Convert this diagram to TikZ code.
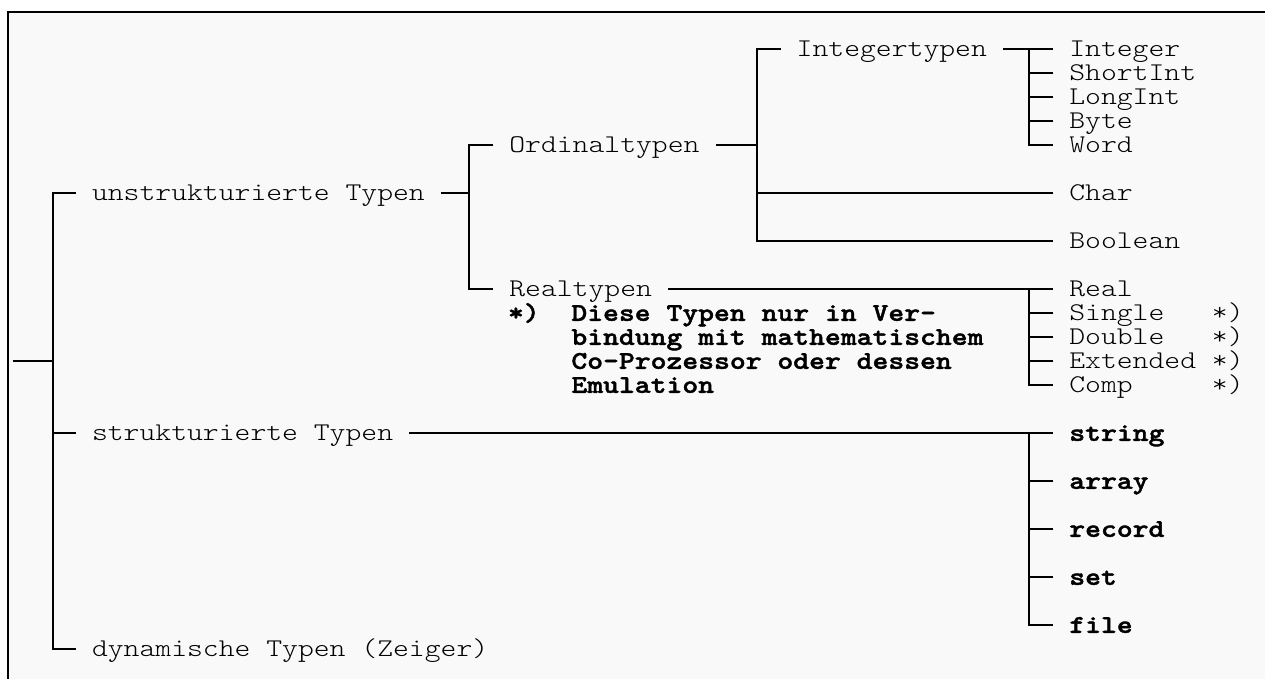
\documentclass[tikz,border=0pt]{standalone}
\usepackage{fontspec}
\newfontfamily\monof{lmmonolt10-regular.otf}[FakeStretch=1.184]
\newfontfamily\monobf{lmmonolt10-bold.otf}[FakeStretch=1.184, FakeBold=1.6]
\begin{document}
\begin{tikzpicture}[x=1pt,y=-1pt,
  tree/.style={line width=1.8pt},
  lbl/.style={font={\monof\fontsize{25.5}{24}\selectfont}, inner xsep=16pt, inner ysep=0pt,
    text height=21.6pt, text depth=6pt, anchor=west, outer sep=0pt},
  blbl/.style={lbl, font={\monobf\fontsize{25.5}{24}\selectfont}}]
\useasboundingbox (0,0) rectangle (1265,679);
\fill[gray!5] (8,12) rectangle (1270,684);
\draw[line width=2.2pt] (8,684) -- (8,12) -- (1270,12);

% level 1
\node[lbl] (u) at (76,193) {unstrukturierte Typen};
\node[lbl] (s) at (76,433) {strukturierte Typen};
\node[lbl] (d) at (76,649) {dynamische Typen (Zeiger)};
% level 2
\node[lbl] (o) at (493.3,145) {Ordinaltypen};
\node[lbl] (r) at (493.3,289) {Realtypen};
% level 3
\node[lbl] (it) at (780.7,49) {Integertypen};
\node[lbl] (ch) at (1053.3,193) {Char};
\node[lbl] (bo) at (1053.3,241) {Boolean};
% integer types
\node[lbl] (i1) at (1053.3,49) {Integer};
\node[lbl] (i2) at (1053.3,73) {ShortInt};
\node[lbl] (i3) at (1053.3,97) {LongInt};
\node[lbl] (i4) at (1053.3,121) {Byte};
\node[lbl] (i5) at (1053.3,145) {Word};
% real types
\node[lbl] (re1) at (1053.3,289) {Real};
\node[lbl] (re2) at (1053.3,313) {Single~~~*)};
\node[lbl] (re3) at (1053.3,337) {Double~~~*)};
\node[lbl] (re4) at (1053.3,361) {Extended~*)};
\node[lbl] (re5) at (1053.3,385) {Comp~~~~~*)};
% footnote
\node[blbl] (f1) at (492,313) {*)~~Diese Typen nur in Ver-};
\node[blbl] (f2) at (492,337) {~~~~bindung mit mathematischem};
\node[blbl] (f3) at (492,361) {~~~~Co-Prozessor oder dessen};
\node[blbl] (f4) at (492,385) {~~~~Emulation};
% structured types
\node[blbl] (st1) at (1053.3,433) {string};
\node[blbl] (st2) at (1053.3,481) {array};
\node[blbl] (st3) at (1053.3,529) {record};
\node[blbl] (st4) at (1053.3,577) {set};
\node[blbl] (st5) at (1053.3,625) {file};

% bus coordinates
\coordinate (root) at (12.7,361);
\coordinate (b0) at (52.7,361);
\coordinate (b1) at (469,193);
\coordinate (b2) at (757,145);
\coordinate (b3) at (1029,49);
\coordinate (b4) at (1029,289);
\coordinate (b5) at (1029,433);

% connectors
\draw[tree] (root) -- (b0);
\draw[tree] (u.west) -| (b0) |- (d.west);
\draw[tree] (s.west) -- (s.west -| b0);
\draw[tree] (u.east) -- (b1);
\draw[tree] (o.west) -| (b1) |- (r.west);
\draw[tree] (o.east) -- (b2);
\draw[tree] (it.west) -| (b2) |- (bo.west);
\draw[tree] (ch.west) -- (ch.west -| b2);
\draw[tree] (it.east) -- (i1.west);
\draw[tree] (b3) |- (i5.west);
\foreach \n in {i2,i3,i4} \draw[tree] (\n.west) -- (\n.west -| b3);
\draw[tree] (r.east) -- (re1.west);
\draw[tree] (b4) |- (re5.west);
\foreach \n in {re2,re3,re4} \draw[tree] (\n.west) -- (\n.west -| b4);
\draw[tree] (s.east) -- (st1.west);
\draw[tree] (b5) |- (st5.west);
\foreach \n in {st2,st3,st4} \draw[tree] (\n.west) -- (\n.west -| b5);
\end{tikzpicture}
\end{document}
